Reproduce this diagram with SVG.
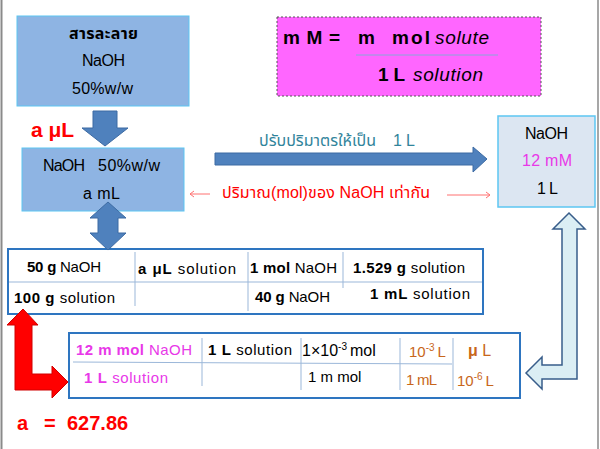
<svg xmlns="http://www.w3.org/2000/svg" width="600" height="449" viewBox="0 0 600 449">
<style>
text{font-family:"Liberation Sans","Noto Sans","Noto Sans Thai",Tahoma,sans-serif;}
.b{font-weight:bold}
.c{text-anchor:middle}
.t15{font-size:15px}
.t16{font-size:16px}
.mg{fill:#e838e8}
.or{fill:#c8661a}
.grid{stroke:#9bb7d9;stroke-width:1;fill:none}
.tab{fill:#ffffff;stroke:#2e75c0;stroke-width:2}
.barrow{fill:#4f81bd;stroke:#3d6ba3;stroke-width:1}
</style>
<rect width="600" height="449" fill="#ffffff"/>
<line x1="1.5" y1="0" x2="1.5" y2="449" stroke="#8a8a8a" stroke-width="2"/>
<line x1="598" y1="0" x2="598" y2="449" stroke="#8a8a8a" stroke-width="1.5"/>

<g id="box-stock">
<rect x="17" y="16" width="172" height="90" fill="#8eb4e3" stroke="#5cc6f2" stroke-width="1"/>
<text x="69" y="39" class="t16 b" textLength="69">สารละลาย</text>
<text x="82" y="66" class="t16" textLength="43">NaOH</text>
<text x="72" y="94" class="t16" textLength="61">50%w/w</text>
</g>

<g id="box-aliquot">
<rect x="22" y="148" width="162" height="63" fill="#8eb4e3" stroke="#5cc6f2" stroke-width="1"/>
<text x="43" y="171" class="t16" textLength="42">NaOH</text>
<text x="98" y="171" class="t16" textLength="62">50%w/w</text>
<text x="83" y="199" class="t16" textLength="37">a mL</text>
</g>

<g id="box-final">
<rect x="498" y="116" width="97" height="91" fill="#dce6f2" stroke="#5cc6f2" stroke-width="1.5"/>
<text x="525" y="139" class="t16" textLength="43">NaOH</text>
<text x="522" y="166" class="t16 mg" textLength="50">12 mM</text>
<text x="537" y="194" class="t16" textLength="21">1 L</text>
</g>

<g id="formula">
<rect x="277" y="17" width="264" height="79" fill="#ff66ff" stroke="#555555" stroke-width="1" stroke-dasharray="2,2"/>
<text x="283" y="44" font-size="19" class="b" textLength="57">m M =</text>
<text x="358" y="44" font-size="19" class="b" textLength="19">m</text>
<text x="392" y="44" font-size="19" class="b" textLength="38">mol</text>
<text x="435" y="44" font-size="19" font-style="italic" textLength="54">solute</text>
<line x1="356" y1="55" x2="498" y2="55" stroke="#8aa6d8" stroke-width="1"/>
<text x="378" y="81" font-size="19" class="b" textLength="27">1 L</text>
<text x="413" y="81" font-size="19" font-style="italic" textLength="70">solution</text>
</g>

<g id="table1">
<rect x="8" y="249" width="475" height="65" class="tab"/>
<line x1="9" y1="282" x2="482" y2="282" class="grid"/>
<line x1="135" y1="252" x2="135" y2="306" class="grid"/>
<line x1="248" y1="252" x2="248" y2="311" class="grid"/>
<line x1="343" y1="252" x2="343" y2="288" class="grid"/>
<text x="27" y="272" class="t15" textLength="74"><tspan class="b">50 g</tspan> NaOH</text>
<text x="138" y="274" class="t15" textLength="98"><tspan class="b">a μL</tspan> solution</text>
<text x="250" y="273" class="t15" textLength="87"><tspan class="b">1 mol</tspan> NaOH</text>
<text x="353" y="273" class="t15" textLength="112"><tspan class="b">1.529 g</tspan> solution</text>
<text x="14" y="303" class="t15" textLength="101"><tspan class="b">100 g</tspan> solution</text>
<text x="255" y="302" class="t15" textLength="75"><tspan class="b">40 g</tspan> NaOH</text>
<text x="370" y="299" class="t15" textLength="100"><tspan class="b">1 mL</tspan> solution</text>
</g>

<g id="table2">
<rect x="69" y="333" width="451" height="65" class="tab"/>
<line x1="73" y1="362" x2="452" y2="364" class="grid"/>
<line x1="202" y1="338" x2="202" y2="386" class="grid"/>
<line x1="301" y1="338" x2="301" y2="390" class="grid"/>
<line x1="400" y1="338" x2="400" y2="390" class="grid"/>
<line x1="453" y1="338" x2="453" y2="390" class="grid"/>
<text x="76" y="355" class="t15 mg" textLength="116"><tspan class="b">12 m mol</tspan> NaOH</text>
<text x="208" y="355" class="t15" textLength="84"><tspan class="b">1 L</tspan> solution</text>
<text x="302" y="356" class="t16">1×10<tspan font-size="10" dy="-6">-3</tspan><tspan dy="6" dx="3">mol</tspan></text>
<text x="409" y="357" class="t15 or">10<tspan font-size="10" dy="-6">-3</tspan><tspan dy="6" dx="3">L</tspan></text>
<text x="468" y="356" class="t16 or"><tspan class="b">μ</tspan> L</text>
<text x="84" y="383" class="t15 mg" textLength="84"><tspan class="b">1 L</tspan> solution</text>
<text x="308" y="382" class="t15">1 m mol</text>
<text x="406" y="385" class="t15 or" textLength="31">1 mL</text>
<text x="457" y="386" class="t15 or">10<tspan font-size="10" dy="-6">-6</tspan><tspan dy="6" dx="3">L</tspan></text>
</g>

<g id="labels">
<text x="31" y="137" font-size="21" fill="#ff0000" class="b">a μL</text>
<text x="259" y="146" class="t16" fill="#31849b" textLength="117">ปรับปริมาตรให้เป็น</text>
<text x="393" y="146" class="t16" fill="#31849b" textLength="22">1 L</text>
<text x="222" y="198" class="t16" fill="#ff0000" textLength="208">ปริมาณ(mol)ของ NaOH เท่ากัน</text>
<text y="430" font-size="20" fill="#ff0000" class="b"><tspan x="17">a</tspan><tspan x="44">=</tspan><tspan x="67">627.86</tspan></text>
</g>

<g id="connectors">
<path class="barrow" d="M93,111 H117 V128 H128 L105,146 L82,128 H93 Z"/>
<path class="barrow" d="M108,202 L126,218 H118 V233 H126 L108,250 L90,233 H98 V218 H90 Z"/>
<path class="barrow" d="M215,153 H473 V147 L487,159 L473,172 V165 H215 Z"/>
<g stroke="#ff7070" stroke-width="1" fill="none">
<line x1="190" y1="194" x2="210" y2="194"/>
<path d="M194,191 L190,194 L194,197"/>
<line x1="447" y1="195" x2="490" y2="195"/>
<path d="M486,192 L490,195 L486,198"/>
</g>
<path d="M23,309 L38,325 H32 V374 H52 V366 L68,382 L52,398 V390 H15 V325 H7 Z" fill="#ff0000" stroke="#d00000" stroke-width="1"/>
<path d="M569,213 L585,229 H577 V379 H542 V389 L526,373 L542,357 V365 H562 V229 H553 Z" fill="#dbeef4" stroke="#385d8a" stroke-width="1.5"/>
</g>
</svg>
